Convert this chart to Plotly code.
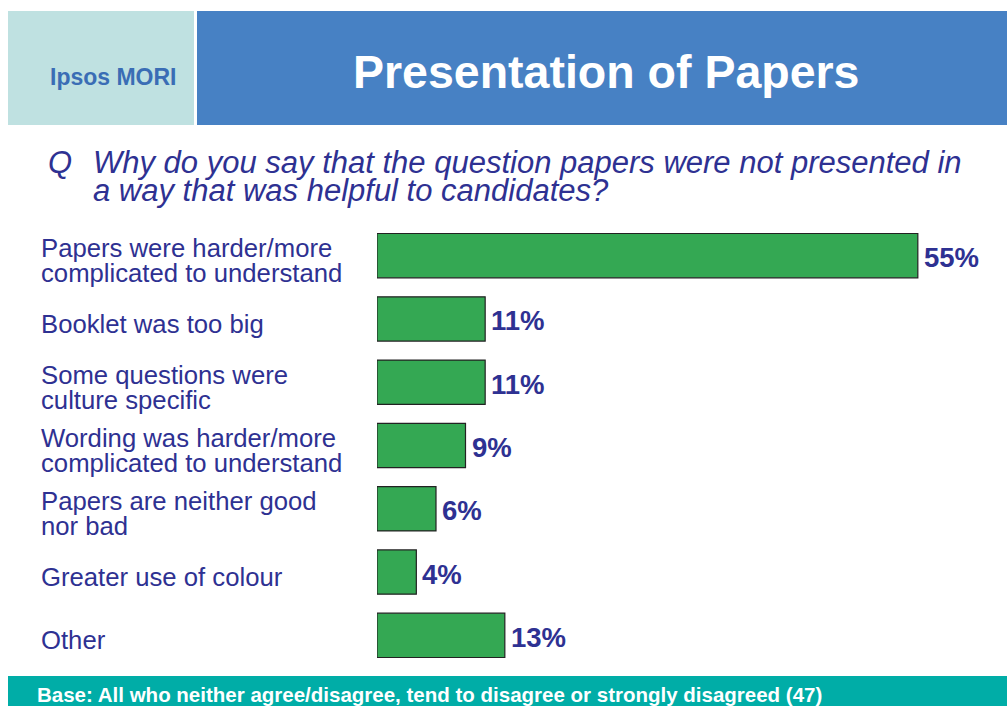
import plotly.graph_objects as go

# Survey results
categories = [
    "Papers were harder/more<br>complicated to understand",
    "Booklet was too big",
    "Some questions were<br>culture specific",
    "Wording was harder/more<br>complicated to understand",
    "Papers are neither good<br>nor bad",
    "Greater use of colour",
    "Other",
]
values = [55, 11, 11, 9, 6, 4, 13]
value_labels = ["55%", "11%", "11%", "9%", "6%", "4%", "13%"]

title_text = "Presentation of Papers"
brand_text = "Ipsos MORI"
question_lines = [
    "Why do you say that the question papers were not presented in",
    "a way that was helpful to candidates?",
]
base_text = "Base: All who neither agree/disagree, tend to disagree or strongly disagreed (47)"

W, H = 1007, 706
ML, MR, MT, MB = 377, 40, 224, 39
PW, PH = W - ML - MR, H - MT - MB
X_MAX = 60

TEXT_BLUE = "#2e3192"
GREEN = "#34a853"
FONT = "Liberation Sans, Arial, sans-serif"


def px(x):
    return (x - ML) / PW


def py(y):
    return (H - MB - y) / PH


fig = go.Figure()
fig.add_trace(go.Bar(
    y=list(range(len(categories))),
    x=values,
    orientation="h",
    width=0.7,
    marker=dict(color=GREEN, line=dict(color="#222222", width=1.2)),
    hoverinfo="skip",
))

shapes = [
    # header panels
    dict(type="rect", xref="paper", yref="paper", x0=px(8), x1=px(194), y0=py(125), y1=py(11),
         fillcolor="#bfe1e1", line=dict(width=0), layer="below"),
    dict(type="rect", xref="paper", yref="paper", x0=px(197), x1=px(1007), y0=py(125), y1=py(11),
         fillcolor="#4781c4", line=dict(width=0), layer="below"),
    # footer band
    dict(type="rect", xref="paper", yref="paper", x0=px(8), x1=px(1007), y0=py(706), y1=py(676),
         fillcolor="#00ada7", line=dict(width=0), layer="below"),
]

annotations = [
    dict(text=brand_text, xref="paper", yref="paper", x=px(113), y=py(77),
         xanchor="center", yanchor="middle", showarrow=False,
         font=dict(family=FONT, size=23, color="#3a6db5", weight="bold")),
    dict(text=title_text, xref="paper", yref="paper", x=px(606), y=py(72),
         xanchor="center", yanchor="middle", showarrow=False,
         font=dict(family=FONT, size=46.5, color="white", weight="bold")),
    dict(text="Q", xref="paper", yref="paper", x=px(46), y=py(162),
         xanchor="left", yanchor="middle", showarrow=False,
         font=dict(family=FONT, size=31, color=TEXT_BLUE, style="italic")),
    dict(text=base_text, xref="paper", yref="paper", x=px(35), y=py(694),
         xanchor="left", yanchor="middle", showarrow=False,
         font=dict(family=FONT, size=20.5, color="white", weight="bold")),
]
for i, line in enumerate(question_lines):
    annotations.append(dict(
        text=line, xref="paper", yref="paper", x=px(91), y=py(162 + 28 * i),
        xanchor="left", yanchor="middle", showarrow=False,
        font=dict(family=FONT, size=31, color=TEXT_BLUE, style="italic")))

# category labels, one annotation per line for tight line spacing
for i, cat in enumerate(categories):
    lines = cat.split("<br>")
    n = len(lines)
    for j, line in enumerate(lines):
        offset = (j - (n - 1) / 2) * 25 + 5
        annotations.append(dict(
            text=line, xref="paper", yref="y", x=px(39), y=i,
            yshift=-offset, xanchor="left", yanchor="middle", showarrow=False,
            font=dict(family=FONT, size=25.7, color=TEXT_BLUE)))

# value labels just past the end of each bar
for i, (v, lab) in enumerate(zip(values, value_labels)):
    annotations.append(dict(
        text=lab, xref="x", yref="y", x=v, y=i, xshift=4, yshift=-2,
        xanchor="left", yanchor="middle", showarrow=False,
        font=dict(family=FONT, size=27.5, color=TEXT_BLUE, weight="bold")))

fig.update_layout(
    width=W, height=H,
    margin=dict(l=ML, r=MR, t=MT, b=MB, pad=0),
    paper_bgcolor="white", plot_bgcolor="white",
    showlegend=False,
    shapes=shapes,
    annotations=annotations,
    xaxis=dict(range=[0, X_MAX], visible=False, fixedrange=True),
    yaxis=dict(range=[len(categories) - 0.5, -0.5], visible=False, fixedrange=True),
)

fig.write_html("out.html", config={"displayModeBar": False})
